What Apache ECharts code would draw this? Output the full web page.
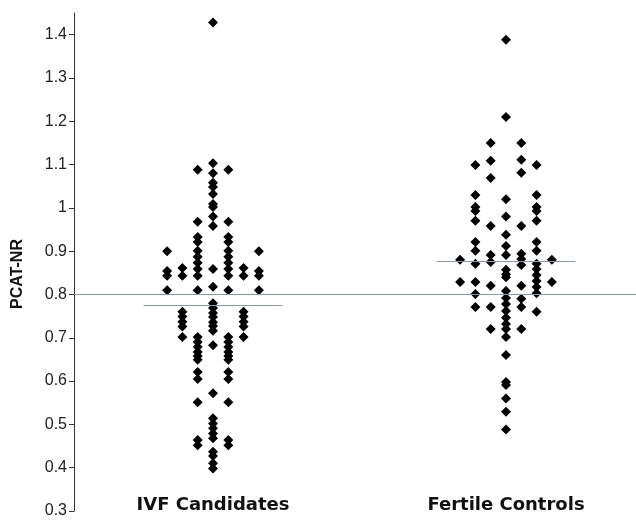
<!DOCTYPE html>
<html>
<head>
<meta charset="utf-8">
<script src="https://cdn.jsdelivr.net/npm/echarts@6/dist/echarts.min.js"></script>
<style>
  html, body { margin: 0; padding: 0; background: #fff; }
  #chart { width: 636px; height: 522px; }
</style>
</head>
<body>
<div id="chart"></div>
<script>
// groups on the x axis (1 = IVF, 2 = Fertile)
const groups = ['IVF Candidates', 'Fertile Controls'];
const yTicks = [0.3, 0.4, 0.5, 0.6, 0.7, 0.8, 0.9, 1.0, 1.1, 1.2, 1.3, 1.4];
const refValue = 0.8;
const groupMeans = [0.775, 0.876];

// IVF candidates, by swarm column (side columns are mirrored)
const ivfCenter = [1.428, 1.103, 1.080, 1.058, 1.048, 1.032, 1.009, 1.002, 0.980, 0.958,
  0.859, 0.818, 0.780, 0.769, 0.757, 0.748, 0.736, 0.727, 0.716, 0.683,
  0.572, 0.514, 0.502, 0.491, 0.479, 0.468, 0.437, 0.427, 0.410, 0.398];
const ivfSide1 = [1.088, 0.968, 0.933, 0.921, 0.901, 0.887, 0.873, 0.859, 0.843, 0.810,
  0.702, 0.690, 0.679, 0.667, 0.658, 0.649, 0.621, 0.605, 0.551, 0.464, 0.452];
const ivfSide2 = [0.861, 0.843, 0.760, 0.749, 0.737, 0.726, 0.702];
const ivfSide3 = [0.900, 0.854, 0.843, 0.810];

// fertile controls
const ferCenter = [1.388, 1.210, 1.020, 0.980, 0.938, 0.912, 0.891, 0.857, 0.847, 0.840,
  0.808, 0.792, 0.778, 0.762, 0.746, 0.732, 0.720, 0.702, 0.660, 0.598, 0.591, 0.560, 0.529, 0.488];
const ferLeft1 = [1.150, 1.109, 1.069, 0.958, 0.891, 0.875, 0.820, 0.771, 0.720];
const ferRight1 = [1.150, 1.111, 1.081, 0.958, 0.894, 0.882, 0.868, 0.820, 0.790, 0.771, 0.720];
const ferLeft2 = [1.099, 1.030, 1.002, 0.993, 0.970, 0.921, 0.901, 0.871, 0.829, 0.801, 0.771];
const ferRight2 = [1.099, 1.030, 1.002, 0.993, 0.970, 0.921, 0.901, 0.871, 0.859, 0.845, 0.831, 0.817, 0.803, 0.760];
const ferSide3 = [0.880, 0.829];

const colStep = 0.0522;   // horizontal spacing of swarm columns
const meanHalf = 0.237;   // half length of mean bars

function col(group, c, vals) {
  return vals.map(function (v) { return [group + c * colStep, v]; });
}
function mirror(group, c, vals) {
  return col(group, -c, vals).concat(col(group, c, vals));
}

const ivfData = [].concat(
  col(1, 0, ivfCenter), mirror(1, 1, ivfSide1), mirror(1, 2, ivfSide2), mirror(1, 3, ivfSide3)
);
const ferData = [].concat(
  col(2, 0, ferCenter), col(2, -1, ferLeft1), col(2, 1, ferRight1),
  col(2, -2, ferLeft2), col(2, 2, ferRight2), mirror(2, 3, ferSide3)
);

const lineColor = '#8c98aa';

function meanLine(g) {
  return [{ coord: [g - meanHalf, groupMeans[g - 1]] }, { coord: [g + meanHalf, groupMeans[g - 1]] }];
}

const chart = echarts.init(document.getElementById('chart'), null, { renderer: 'canvas' });
chart.setOption({
  animation: false,
  grid: { left: 74, right: 0, top: 13, bottom: 11, containLabel: false },
  xAxis: {
    type: 'value',
    min: 0.5256,
    max: 2.4437,
    axisLine: { show: false },
    axisTick: { show: false },
    splitLine: { show: false },
    axisLabel: {
      customValues: [1, 2],
      formatter: function (v) { return groups[Math.round(v) - 1]; },
      margin: 3,
      verticalAlign: 'bottom',
      fontFamily: '"Comic Sans MS", "DejaVu Sans", sans-serif',
      fontWeight: 'bold',
      fontSize: 18,
      color: '#111'
    }
  },
  yAxis: {
    type: 'value',
    min: 0.3,
    max: 1.45,
    name: 'PCAT-NR',
    nameLocation: 'middle',
    nameRotate: 90,
    nameGap: 48,
    nameTextStyle: {
      fontFamily: '"Liberation Sans", Arial, sans-serif',
      fontWeight: 'bold',
      fontSize: 16,
      color: '#111',
      padding: [0, 24, 0, 0]
    },
    axisLine: { show: true, lineStyle: { color: '#333', width: 1 } },
    axisTick: { show: true, length: 5, customValues: yTicks, lineStyle: { color: '#333' } },
    splitLine: { show: false },
    axisLabel: {
      customValues: yTicks,
      formatter: function (v) { return String(+v.toFixed(1)); },
      margin: 7,
      fontFamily: '"Liberation Sans", Arial, sans-serif',
      fontSize: 16,
      color: '#222'
    }
  },
  series: [
    {
      name: groups[0],
      type: 'scatter',
      data: ivfData,
      symbol: 'diamond',
      symbolSize: 10,
      itemStyle: { color: '#000', opacity: 1 },
      markLine: {
        silent: true,
        symbol: 'none',
        label: { show: false },
        lineStyle: { color: lineColor, type: 'solid', width: 1.2 },
        data: [{ yAxis: refValue }, meanLine(1)]
      }
    },
    {
      name: groups[1],
      type: 'scatter',
      data: ferData,
      symbol: 'diamond',
      symbolSize: 10,
      itemStyle: { color: '#000', opacity: 1 },
      markLine: {
        silent: true,
        symbol: 'none',
        label: { show: false },
        lineStyle: { color: lineColor, type: 'solid', width: 1.2 },
        data: [meanLine(2)]
      }
    }
  ]
});
</script>
</body>
</html>
